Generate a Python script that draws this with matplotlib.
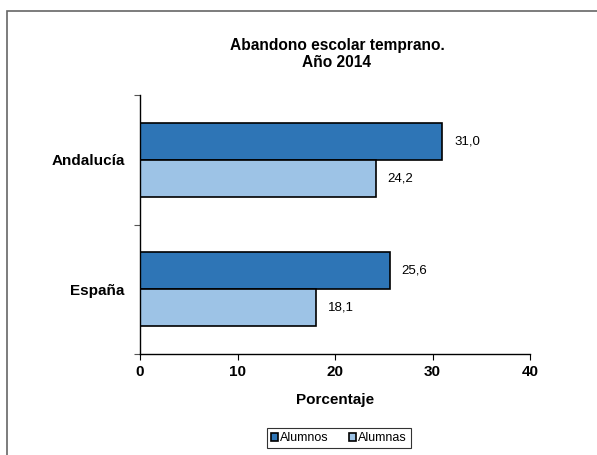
import matplotlib
matplotlib.use("Agg")
import matplotlib.pyplot as plt
from matplotlib.patches import Rectangle

plt.rcParams['font.family'] = ['Liberation Sans', 'DejaVu Sans']

categories = ["España", "Andalucía"]
alumnos = [25.6, 31.0]
alumnas = [18.1, 24.2]
series_names = ["Alumnos", "Alumnas"]
xticks = [0, 10, 20, 30, 40]

fig = plt.figure(figsize=(5.97, 4.55), dpi=100)
fig.patches.append(Rectangle((7/597, -0.1), 1.2, 1 - 11/455 + 0.1, transform=fig.transFigure,
                             fill=False, edgecolor='#666666', linewidth=1.2))
ax = fig.add_axes([140/597, 1 - 354/455, 390/597, 259/455])

h = 0.285
ys = list(range(len(categories)))
b1 = ax.barh([y + h/2 for y in ys], alumnos, height=h, color='#2E75B6', edgecolor='black', linewidth=1.2, label=series_names[0])
b2 = ax.barh([y - h/2 for y in ys], alumnas, height=h, color='#9DC3E6', edgecolor='black', linewidth=1.2, label=series_names[1])

for bars, vals in ((b1, alumnos), (b2, alumnas)):
    for bar, v in zip(bars, vals):
        ax.annotate(f"{v:.1f}".replace('.', ','), (v, bar.get_y() + bar.get_height()/2),
                    xytext=(8.5, 0), textcoords='offset points', va='center', ha='left', fontsize=9.5)

ax.set_xlim(0, 40)
ax.set_ylim(-0.5, len(categories) - 0.5)
ax.set_xticks(xticks)
ax.set_xticklabels([str(t) for t in xticks], fontsize=11, fontweight='bold')
ax.set_yticks([-0.5, 0.5, 1.5])
ax.set_yticklabels([])
ax.set_yticks(ys, minor=True)
ax.set_yticklabels(categories, minor=True, fontsize=11, fontweight='bold')
ax.tick_params(axis='y', which='minor', length=0, pad=11)
ax.tick_params(axis='y', which='major', length=4, direction='out', color='#555555')
ax.tick_params(axis='x', length=4, direction='out', pad=4)
for s in ['top', 'right']:
    ax.spines[s].set_visible(False)
ax.spines['left'].set_linewidth(1.0)
ax.spines['bottom'].set_linewidth(1.0)

ax.set_xlabel("Porcentaje", fontsize=11, fontweight='bold', labelpad=10)
fig.text(337/597, 1 - 54/455, "Abandono escolar temprano.\nAño 2014", ha='center', va='center',
         fontsize=11.2, fontweight='bold', linespacing=1.2)

leg = fig.legend(handles=[b1, b2], labels=series_names, loc='center', bbox_to_anchor=(339/597, 1 - 438/455),
                 ncol=2, fontsize=9, frameon=True, fancybox=False, edgecolor='black',
                 handlelength=0.6, handleheight=0.6, handletextpad=0.15, columnspacing=1.6,
                 borderpad=0.3)
leg.get_frame().set_linewidth(0.8)

fig.savefig("out.png", dpi=100)
